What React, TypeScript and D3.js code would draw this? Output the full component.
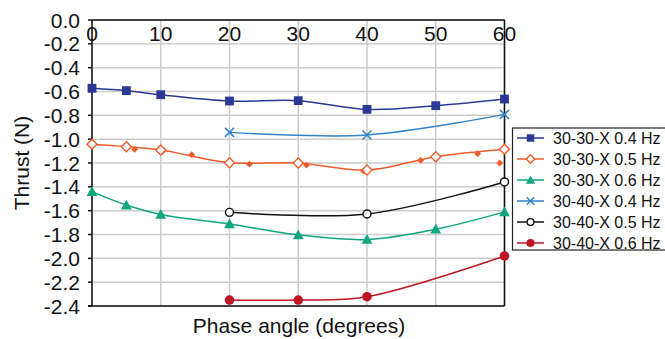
import React from "react";
import * as d3 from "d3";

const W = 665;
const H = 339;

const xTicks = [0, 10, 20, 30, 40, 50, 60];
const yTicks = [0, -0.2, -0.4, -0.6, -0.8, -1.0, -1.2, -1.4, -1.6, -1.8, -2.0, -2.2, -2.4];

const xFull = [0, 5, 10, 20, 30, 40, 50, 60];
const x3 = [20, 40, 60];
const x4 = [20, 30, 40, 60];

const s3030_04 = [-0.573, -0.593, -0.627, -0.68, -0.677, -0.75, -0.719, -0.663];
const s3030_05 = [-1.043, -1.063, -1.091, -1.197, -1.2, -1.259, -1.147, -1.085];
const s3030_06 = [-1.44, -1.553, -1.632, -1.712, -1.803, -1.842, -1.756, -1.61];
const s3040_04 = [-0.943, -0.965, -0.792];
const s3040_05 = [-1.614, -1.628, -1.359];
const s3040_06 = [-2.35, -2.35, -2.322, -1.98];

// unlabeled small filled orange diamonds
const extraX = [6.2, 10.2, 14.5, 22.9, 31.2, 39.5, 47.8, 56.1, 59.3];
const extraY = [-1.085, -1.105, -1.13, -1.21, -1.217, -1.267, -1.178, -1.122, -1.2];

type Shape = "square" | "diamondOpen" | "triangle" | "x" | "circleOpen" | "circleFilled" | "diamondSmall";

const series: { name: string; xs: number[]; ys: number[]; color: string; shape: Shape }[] = [
  { name: "30-30-X 0.4 Hz", xs: xFull, ys: s3030_04, color: "#2B3896", shape: "square" },
  { name: "30-30-X 0.5 Hz", xs: xFull, ys: s3030_05, color: "#F15A2B", shape: "diamondOpen" },
  { name: "30-30-X 0.6 Hz", xs: xFull, ys: s3030_06, color: "#12A67E", shape: "triangle" },
  { name: "30-40-X 0.4 Hz", xs: x3, ys: s3040_04, color: "#2E84C6", shape: "x" },
  { name: "30-40-X 0.5 Hz", xs: x3, ys: s3040_05, color: "#111111", shape: "circleOpen" },
  { name: "30-40-X 0.6 Hz", xs: x4, ys: s3040_06, color: "#BE1622", shape: "circleFilled" },
];

const FONT = "'Liberation Sans', Arial, sans-serif";

function Marker({ shape, cx, cy, color, s = 1 }: { shape: Shape; cx: number; cy: number; color: string; s?: number }) {
  switch (shape) {
    case "square": {
      const h = 4.4 * s;
      return <rect x={cx - h} y={cy - h} width={2 * h} height={2 * h} fill={color} />;
    }
    case "diamondOpen": {
      const h = 5 * s;
      return (
        <path
          d={`M${cx},${cy - h}L${cx + h},${cy}L${cx},${cy + h}L${cx - h},${cy}Z`}
          fill="white"
          stroke={color}
          strokeWidth={1.4}
        />
      );
    }
    case "diamondSmall": {
      const h = 3.4 * s;
      return <path d={`M${cx},${cy - h}L${cx + h},${cy}L${cx},${cy + h}L${cx - h},${cy}Z`} fill={color} />;
    }
    case "triangle": {
      const h = 5.4 * s;
      return <path d={`M${cx},${cy - h}L${cx + h},${cy + h * 0.8}L${cx - h},${cy + h * 0.8}Z`} fill={color} />;
    }
    case "x": {
      const h = 4.5 * s;
      return (
        <path
          d={`M${cx - h},${cy - h}L${cx + h},${cy + h}M${cx - h},${cy + h}L${cx + h},${cy - h}`}
          stroke={color}
          strokeWidth={1.5}
          fill="none"
        />
      );
    }
    case "circleOpen":
      return <circle cx={cx} cy={cy} r={4 * s} fill="white" stroke={color} strokeWidth={1.4} />;
    case "circleFilled":
      return <circle cx={cx} cy={cy} r={4.8 * s} fill={color} />;
  }
  return null;
}

export default function App() {
  const x = d3.scaleLinear().domain([0, 60]).range([92, 504.5]);
  const y = d3.scaleLinear().domain([-2.4, 0]).range([306, 20]);
  const line = d3
    .line<[number, number]>()
    .x((d) => x(d[0]))
    .y((d) => y(d[1]))
    .curve(d3.curveCatmullRom.alpha(0.5));

  const left = x(0);
  const right = x(60);
  const top = y(0);
  const bottom = y(-2.4);

  const legX = 512.5;
  const legY = 128;
  const rowH = 21;

  return (
    <svg
      width={W}
      height={H}
      style={{ position: "absolute", left: 0, top: 0, background: "white" }}
      fontFamily={FONT}
    >
      <rect x={0} y={0} width={W} height={H} fill="white" />
      {/* gridlines */}
      {xTicks.map((t) => (
        <line key={"gx" + t} x1={x(t)} x2={x(t)} y1={top} y2={bottom} stroke="#CCCCCC" strokeWidth={1.5} />
      ))}
      {yTicks.map((t) => (
        <line key={"gy" + t} x1={left} x2={right} y1={y(t)} y2={y(t)} stroke="#CCCCCC" strokeWidth={1.5} />
      ))}
      {/* frame */}
      <line x1={left} x2={right} y1={top} y2={top} stroke="#111" strokeWidth={1.5} />
      <line x1={right} x2={right} y1={top} y2={bottom} stroke="#111" strokeWidth={1.5} />
      <line x1={left - 4} x2={right} y1={bottom} y2={bottom} stroke="#111" strokeWidth={1.5} />
      <line x1={left} x2={left} y1={top} y2={bottom} stroke="#111" strokeWidth={1.5} />
      {yTicks.map((t) => (
        <line key={"ty" + t} x1={left - 4} x2={left} y1={y(t)} y2={y(t)} stroke="#111" strokeWidth={1.5} />
      ))}
      {/* y tick labels */}
      {yTicks.map((t) => (
        <text key={"ly" + t} x={80} y={y(t) + 7.5} textAnchor="end" fontSize={21} fill="#111">
          {t === 0 ? "0.0" : d3.format(".1f")(t).replace("−", "-")}
        </text>
      ))}
      {/* x tick labels */}
      {xTicks.map((t) => (
        <text key={"lx" + t} x={x(t)} y={41} textAnchor="middle" fontSize={21} fill="#111">
          {t}
        </text>
      ))}
      {/* axis titles */}
      <text x={299} y={333} textAnchor="middle" fontSize={21} fill="#111">
        Phase angle (degrees)
      </text>
      <text transform={`translate(29,163) rotate(-90)`} textAnchor="middle" fontSize={21} fill="#111">
        Thrust (N)
      </text>
      {/* lines */}
      {series.map((s) => (
        <path
          key={"p" + s.name}
          d={line(s.xs.map((v, i) => [v, s.ys[i]] as [number, number])) || ""}
          fill="none"
          stroke={s.color}
          strokeWidth={1.5}
        />
      ))}
      {/* extra orange diamonds */}
      {extraX.map((v, i) => (
        <Marker key={"e" + i} shape="diamondSmall" cx={x(v)} cy={y(extraY[i])} color="#F15A2B" />
      ))}
      {/* markers */}
      {series.map((s) =>
        s.xs.map((v, i) => (
          <Marker key={s.name + i} shape={s.shape} cx={x(v)} cy={y(s.ys[i])} color={s.color} />
        ))
      )}
      {/* legend */}
      <rect x={legX} y={legY} width={W - legX + 5} height={122} fill="white" stroke="#222" strokeWidth={1.2} />
      {series.map((s, i) => {
        const cy = legY + 10 + i * rowH;
        return (
          <g key={"lg" + s.name}>
            <line x1={517} x2={544} y1={cy} y2={cy} stroke={s.color} strokeWidth={1.5} />
            <Marker shape={s.shape} cx={530.5} cy={cy} color={s.color} s={0.85} />
            <text x={553} y={cy + 6} fontSize={16} fill="#111">
              {s.name}
            </text>
          </g>
        );
      })}
    </svg>
  );
}
